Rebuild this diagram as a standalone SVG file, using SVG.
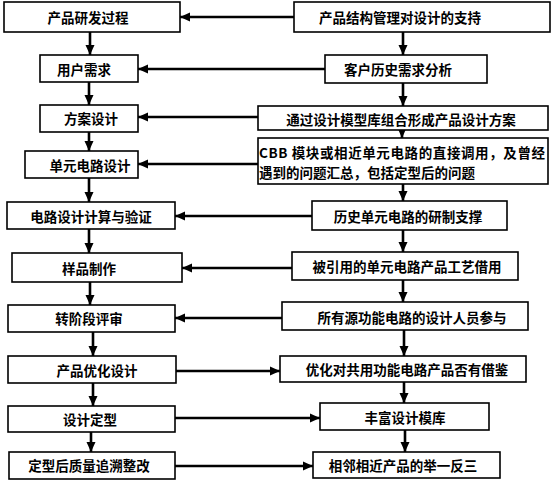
<svg xmlns="http://www.w3.org/2000/svg" width="553" height="485" viewBox="0 0 553 485">
<style>
.box{fill:#fff;stroke:#000;stroke-width:1.6}
.t{font-family:"Noto Sans CJK SC","Noto Sans",sans-serif;font-size:13.5px;font-weight:bold;fill:#000;text-anchor:middle;dominant-baseline:central}
.tl{font-family:"Noto Sans CJK SC","Noto Sans",sans-serif;font-size:13.5px;font-weight:bold;fill:#000;dominant-baseline:central}
.c{stroke:#000;stroke-width:2.6;fill:none;marker-end:url(#ah)}
</style>
<defs>
<marker id="ah" markerUnits="userSpaceOnUse" markerWidth="10" markerHeight="10" viewBox="0 0 10 10" refX="10" refY="5" orient="auto">
<path d="M0,0.5 L10,5 L0,9.5 z" fill="#000"/>
</marker>
</defs>
<rect width="553" height="485" fill="#fff"/>
<g id="connectors">
<line class="c" x1="90" y1="32" x2="90" y2="55"/>
<line class="c" x1="89" y1="82" x2="89" y2="105"/>
<line class="c" x1="89" y1="132" x2="89" y2="151"/>
<line class="c" x1="89" y1="178" x2="89" y2="202"/>
<line class="c" x1="89" y1="229" x2="89" y2="253"/>
<line class="c" x1="90" y1="282" x2="90" y2="305"/>
<line class="c" x1="93" y1="332" x2="93" y2="356"/>
<line class="c" x1="93" y1="383" x2="93" y2="406"/>
<line class="c" x1="91" y1="432" x2="91" y2="452"/>
<line class="c" x1="403" y1="32" x2="403" y2="55"/>
<line class="c" x1="403" y1="83" x2="403" y2="106"/>
<line class="c" x1="402" y1="130" x2="402" y2="138"/>
<line class="c" x1="403" y1="184" x2="403" y2="201"/>
<line class="c" x1="403" y1="230" x2="403" y2="252"/>
<line class="c" x1="403" y1="280" x2="403" y2="302"/>
<line class="c" x1="404" y1="330" x2="404" y2="356"/>
<line class="c" x1="404" y1="382" x2="404" y2="403"/>
<line class="c" x1="405" y1="430" x2="405" y2="452"/>
<line class="c" x1="294" y1="17" x2="180" y2="17"/>
<line class="c" x1="325" y1="69" x2="138" y2="69"/>
<line class="c" x1="258" y1="117" x2="138" y2="117"/>
<line class="c" x1="258" y1="164" x2="138" y2="164"/>
<line class="c" x1="312" y1="216" x2="175" y2="216"/>
<line class="c" x1="292" y1="268" x2="182" y2="268"/>
<line class="c" x1="282" y1="318" x2="175" y2="318"/>
<line class="c" x1="176" y1="371" x2="280" y2="371"/>
<line class="c" x1="175" y1="418" x2="320" y2="418"/>
<line class="c" x1="175" y1="466" x2="313" y2="466"/>
</g>
<g id="L1"><rect class="box" x="4" y="2" width="176" height="30"/><text class="t" x="88" y="17">产品研发过程</text></g>
<g id="L2"><rect class="box" x="40" y="55" width="98" height="27"/><text class="t" x="84" y="69">用户需求</text></g>
<g id="L3"><rect class="box" x="40" y="105" width="98" height="27"/><text class="t" x="91" y="118">方案设计</text></g>
<g id="L4"><rect class="box" x="25" y="151" width="113" height="27"/><text class="t" x="90" y="165">单元电路设计</text></g>
<g id="L5"><rect class="box" x="7" y="202" width="168" height="27"/><text class="t" x="91" y="216">电路设计计算与验证</text></g>
<g id="L6"><rect class="box" x="12" y="253" width="170" height="29"/><text class="t" x="89" y="268">样品制作</text></g>
<g id="L7"><rect class="box" x="8" y="305" width="167" height="27"/><text class="t" x="89" y="318">转阶段评审</text></g>
<g id="L8"><rect class="box" x="8" y="356" width="168" height="27"/><text class="t" x="97" y="370">产品优化设计</text></g>
<g id="L9"><rect class="box" x="8" y="406" width="167" height="26"/><text class="t" x="90" y="419">设计定型</text></g>
<g id="L10"><rect class="box" x="9" y="452" width="166" height="27"/><text class="t" x="89" y="465">定型后质量追溯整改</text></g>
<g id="R1"><rect class="box" x="294" y="2" width="256" height="30"/><text class="t" x="400" y="17">产品结构管理对设计的支持</text></g>
<g id="R2"><rect class="box" x="325" y="55" width="162" height="28"/><text class="t" x="398" y="69">客户历史需求分析</text></g>
<g id="R3"><rect class="box" x="258" y="106" width="290" height="24"/><text class="t" x="401" y="119">通过设计模型库组合形成产品设计方案</text></g>
<g id="R4"><rect class="box" x="258" y="138" width="290" height="46"/><text class="tl" x="259" y="152" textLength="286" lengthAdjust="spacing">CBB 模块或相近单元电路的直接调用，及曾经</text><text class="tl" x="259" y="172">遇到的问题汇总，包括定型后的问题</text></g>
<g id="R5"><rect class="box" x="312" y="201" width="195" height="29"/><text class="t" x="408" y="216">历史单元电路的研制支撑</text></g>
<g id="R6"><rect class="box" x="292" y="252" width="226" height="28"/><text class="t" x="407" y="266">被引用的单元电路产品工艺借用</text></g>
<g id="R7"><rect class="box" x="282" y="302" width="246" height="28"/><text class="t" x="412" y="317">所有源功能电路的设计人员参与</text></g>
<g id="R8"><rect class="box" x="280" y="356" width="246" height="26"/><text class="t" x="407" y="369">优化对共用功能电路产品否有借鉴</text></g>
<g id="R9"><rect class="box" x="320" y="403" width="169" height="27"/><text class="t" x="405" y="417">丰富设计模库</text></g>
<g id="R10"><rect class="box" x="313" y="452" width="187" height="26"/><text class="t" x="403" y="465">相邻相近产品的举一反三</text></g>
</svg>
